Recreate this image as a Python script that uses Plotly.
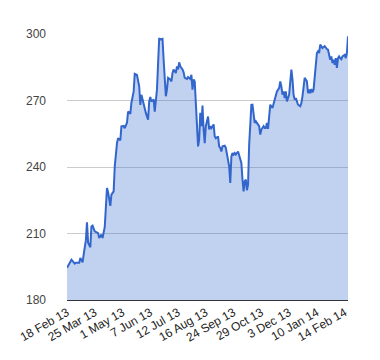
import plotly.graph_objects as go

# trading-day index (0 = 18 Feb 13) and closing price
day_index = [0, 2, 4, 7, 8, 10, 11, 12, 14, 15, 17, 18, 19, 21, 22, 23, 25, 26, 28, 29,
             31, 32, 34, 36, 37, 39, 40, 42, 43, 45, 46, 48, 49, 51, 52, 54, 55, 57, 58, 60,
             61, 63, 65, 66, 67, 68, 69, 71, 73, 74, 75, 76, 78, 79, 81, 82, 83, 84, 86, 87,
             88, 89, 90, 91, 93, 94, 95, 96, 98, 99, 100, 101, 102, 104, 105, 106, 108, 109, 111, 112,
             113, 114, 115, 116, 117, 118, 119, 120, 121, 122, 123, 124, 125, 126, 127, 128, 129, 130, 132, 133,
             134, 136, 137, 138, 139, 140, 142, 143, 144, 145, 146, 147, 148, 149, 150, 151, 152, 154, 155, 156,
             157, 158, 159, 160, 161, 162, 163, 164, 165, 166, 167, 168, 169, 170, 171, 173, 174, 175, 177, 178,
             179, 180, 181, 182, 183, 185, 186, 187, 188, 189, 191, 192, 193, 194, 195, 196, 197, 198, 200, 201,
             202, 203, 204, 205, 206, 207, 208, 210, 211, 212, 213, 214, 216, 217, 218, 219, 220, 221, 222, 224,
             225, 226, 227, 228, 229, 230, 232, 233, 234, 235, 236, 237, 238, 239, 240, 241, 242, 243, 244, 245,
             246, 247, 248, 250, 251, 252, 253]
price = [194.5, 196.7, 198.2, 196.4, 196.8, 196.8, 196.8, 199.0, 197.0, 200.5, 207.0, 215.0, 205.8, 203.8, 213.2, 213.6, 211.0, 210.7, 210.2, 208.0,
         209.5, 208.0, 213.0, 230.5, 228.6, 222.5, 227.5, 229.0, 240.3, 250.8, 253.0, 252.0, 258.3, 258.5, 257.5, 260.0, 265.0, 264.0, 269.0, 274.0,
         282.0, 281.5, 276.4, 268.0, 272.6, 270.6, 268.0, 264.4, 261.3, 269.6, 271.6, 269.5, 270.5, 265.0, 274.9, 288.4, 298.2, 297.5, 297.8, 288.4,
         276.4, 271.9, 274.9, 280.2, 279.5, 278.6, 282.4, 284.0, 282.4, 285.4, 284.0, 287.2, 285.4, 284.0, 282.7, 280.2, 279.7, 280.6, 279.7, 281.6,
         274.9, 279.5, 278.6, 267.4, 254.6, 249.3, 252.3, 264.4, 258.4, 267.7, 256.9, 250.8, 258.4, 261.3, 262.8, 256.9, 258.4, 257.6, 259.2, 253.8,
         253.0, 253.8, 249.3, 248.6, 247.0, 249.3, 249.6, 248.6, 246.3, 243.3, 240.3, 232.8, 244.8, 246.3, 245.6, 246.3, 245.6, 247.0, 244.8, 244.0,
         241.8, 234.3, 229.0, 233.5, 234.3, 229.5, 232.0, 250.0, 263.0, 268.0, 268.1, 263.5, 259.9, 260.6, 259.9, 258.4, 254.6, 256.9, 258.4, 257.6,
         257.6, 259.9, 257.2, 262.8, 268.1, 266.6, 268.8, 271.1, 273.3, 274.1, 275.6, 278.6, 276.4, 272.6, 274.1, 271.1, 274.1, 269.6, 272.6, 277.1,
         283.9, 279.5, 272.6, 270.4, 271.1, 269.6, 268.1, 267.4, 268.8, 271.9, 275.6, 280.2, 278.6, 273.3, 274.9, 273.3, 275.2, 273.7, 274.9, 284.7,
         291.4, 292.2, 291.4, 295.2, 294.5, 293.7, 294.5, 293.7, 293.2, 292.9, 290.6, 288.4, 289.9, 286.9, 288.4, 286.1, 289.1, 284.7, 289.1, 289.9,
         289.1, 288.6, 289.9, 290.6, 289.1, 291.4, 299.0]

tick_index = [0, 25, 50, 75, 100, 125, 150, 175, 200, 225, 250]
tick_labels = ["18 Feb 13", "25 Mar 13", "1 May 13", "7 Jun 13", "12 Jul 13", "16 Aug 13",
               "24 Sep 13", "29 Oct 13", "3 Dec 13", "10 Jan 14", "14 Feb 14"]
y_ticks = [180, 210, 240, 270, 300]

fig = go.Figure()
fig.add_trace(go.Scatter(
    x=day_index, y=price, mode="lines",
    line=dict(color="#3366cc", width=2),
    fill="tozeroy", fillcolor="rgba(51,102,204,0.3)",
    hoverinfo="skip",
))

fig.update_layout(
    width=372, height=352,
    margin=dict(l=59, r=32, t=26, b=60),
    paper_bgcolor="white", plot_bgcolor="white",
    showlegend=False,
    font=dict(family="Liberation Sans, Arial, sans-serif", size=12, color="#444444"),
)
fig.update_xaxes(
    range=[0, 253], automargin=False,
    tickmode="array", tickvals=tick_index, ticktext=tick_labels,
    tickangle=-30, showgrid=False, zeroline=False,
    showline=True, linecolor="#333333", linewidth=1,
    ticks="", tickfont=dict(size=12, color="#222222"),
)
fig.update_yaxes(
    range=[180, 300], automargin=False,
    tickmode="array", tickvals=y_ticks,
    showgrid=True, gridcolor="#cccccc", gridwidth=1, zeroline=False,
    ticks="", ticklabelstandoff=20, tickfont=dict(size=12, color="#444444"),
)

fig.write_html("out.html")
